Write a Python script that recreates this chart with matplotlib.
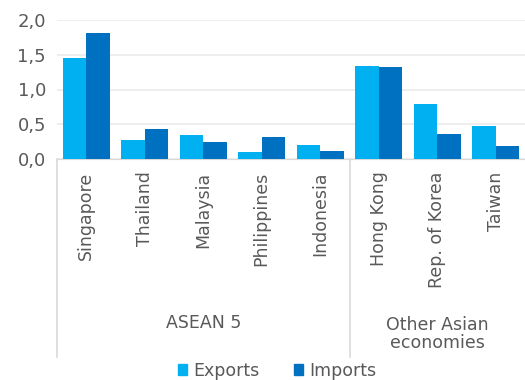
import numpy as np
import matplotlib.pyplot as plt
from matplotlib.patches import Patch

countries = ['Singapore', 'Thailand', 'Malaysia', 'Philippines', 'Indonesia',
             'Hong Kong', 'Rep. of Korea', 'Taiwan']
groups = ['ASEAN 5', 'Other Asian\neconomies']
group_sizes = [5, 3]
exports = [1.45, 0.27, 0.35, 0.10, 0.20, 1.34, 0.79, 0.47]
imports = [1.82, 0.43, 0.24, 0.31, 0.11, 1.32, 0.355, 0.19]
yticks = [0.0, 0.5, 1.0, 1.5, 2.0]

c_exp = '#00B0F0'
c_imp = '#0070C0'
txt = '#595959'
line = '#D9D9D9'

plt.rcParams['font.family'] = ['DejaVu Sans']

fig = plt.figure(figsize=(5.25, 3.8), dpi=100)
ax = fig.add_axes([57 / 525, 1 - 159 / 380, 1 - 57 / 525, 139 / 380])

x = np.arange(len(countries))
w = 0.4
ax.bar(x - w / 2, exports, w, color=c_exp, zorder=3)
ax.bar(x + w / 2, imports, w, color=c_imp, zorder=3)

ax.set_xlim(-0.5, len(countries) - 0.5)
ax.set_ylim(0, 2.0)
ax.set_yticks(yticks)
ax.set_yticklabels([f'{v:.1f}'.replace('.', ',') for v in yticks],
                   fontsize=13, color=txt)
ax.tick_params(axis='y', length=0, pad=8)
ax.set_xticks([])
ax.grid(axis='y', color='#EBEBEB', linewidth=1.2, zorder=0)
for s in ['top', 'right']:
    ax.spines[s].set_visible(False)
ax.spines['left'].set_visible(False)
ax.spines['bottom'].set_color(line)

trans = ax.get_xaxis_transform()
for xi, name in zip(x, countries):
    ax.text(xi, -0.09, name, rotation=90, ha='center', va='top',
            fontsize=12.5, color=txt, transform=trans)

# group separators and labels
bounds = np.concatenate([[0], np.cumsum(group_sizes)]) - 0.5
for b in bounds[:-1]:
    ax.plot([b, b], [0, -1.424], color=line, lw=1.2, transform=trans,
            clip_on=False)
label_y = [-1.18, -1.26]
for i, g in enumerate(groups):
    mid = (bounds[i] + bounds[i + 1]) / 2
    ax.text(mid, label_y[i], g, ha='center', va='center', fontsize=12.5,
            color=txt, transform=trans, linespacing=1.05)

handles = [Patch(color=c_exp, label='Exports'), Patch(color=c_imp, label='Imports')]
fig.legend(handles=handles, loc='lower center', ncol=2, frameon=False,
           bbox_to_anchor=(0.528, -0.04), fontsize=12.5, handlelength=0.5,
           handleheight=0.55, handletextpad=0.35, columnspacing=2.0,
           labelcolor=txt)

fig.savefig('out.png', dpi=100)
